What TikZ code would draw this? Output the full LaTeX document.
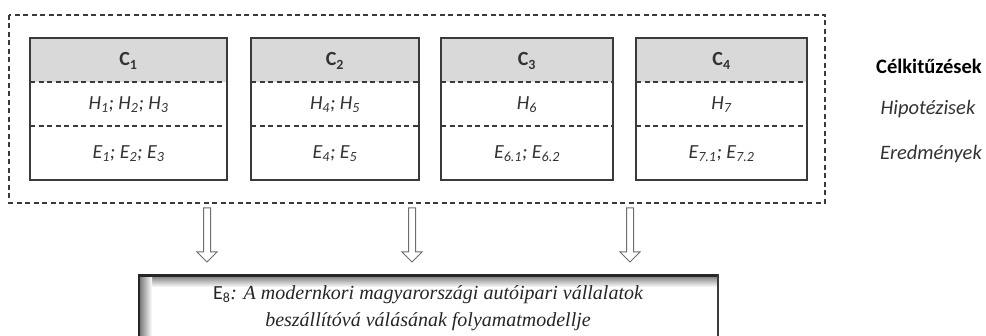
\documentclass[tikz,border=0pt]{standalone}
\usepackage{fontspec}
\setmainfont{Carlito}
\newfontfamily\serifit{Liberation Serif}
\usetikzlibrary{calc}
\definecolor{framegray}{HTML}{3A3A3A}
\definecolor{headgray}{HTML}{D9D9D9}
\definecolor{txt}{HTML}{333333}
\definecolor{arrowgray}{HTML}{6E6E6E}
\newcommand\mkcbox[6]{%
  \fill[headgray] (#2,38) rectangle (#3,82);
  \draw[dline] (#2,82) -- (#3,82);
  \draw[dline] (#2,126) -- (#3,126);
  \draw[cbox] (#2,38) rectangle (#3,180);
  \node[headtext] (#1c) at ({(#2+#3)/2},61) {#4};
  \node[celltext] (#1h) at ({(#2+#3)/2},105) {#5};
  \node[celltext] (#1e) at ({(#2+#3)/2},154) {#6};
}
\newcommand\mkarrow[1]{%
  \draw[hollow] ($(#1)+(-3.5,0)$) -- ($(#1)+(-3.5,44)$) -- ($(#1)+(-10,44)$)
    -- ($(#1)+(0,54)$) -- ($(#1)+(10,44)$) -- ($(#1)+(3.5,44)$)
    -- ($(#1)+(3.5,0)$) -- cycle;
}
\begin{document}
\begin{tikzpicture}[x=1pt,y=-1pt,
  cbox/.style={draw=framegray, line width=1.4pt},
  dline/.style={draw=framegray, line width=1.2pt, dash pattern=on 5pt off 3.5pt},
  outerframe/.style={draw=framegray, line width=1.2pt, dash pattern=on 5pt off 3.5pt},
  headtext/.style={font=\fontsize{20}{23}\selectfont\bfseries, text=txt, inner sep=0pt},
  celltext/.style={font=\fontsize{20}{23}\selectfont\itshape, text=txt, inner sep=0pt},
  sidebold/.style={font=\fontsize{20.5}{23}\selectfont\bfseries, text=black, inner sep=0pt},
  sideit/.style={font=\fontsize{20.5}{23}\selectfont\itshape, text=txt, inner sep=0pt},
  hollow/.style={draw=arrowgray, line width=1pt, fill=white},
  restext/.style={font=\fontsize{20}{27}\selectfont, text=black!85, align=center, inner sep=0pt}
]
\useasboundingbox (0,0) rectangle (986,336);
\clip (0,0) rectangle (986,336);
\fill[white] (0,0) rectangle (986,336);

% outer dashed frame
\draw[outerframe] (9,15) rectangle (825,203);
\coordinate (frameS1) at (207,208);
\coordinate (frameS2) at (412,208);
\coordinate (frameS3) at (630,208);

\mkcbox{b1}{30}{227}{C\textsubscript{1}}{H\textsubscript{1}; H\textsubscript{2}; H\textsubscript{3}}{E\textsubscript{1}; E\textsubscript{2}; E\textsubscript{3}}
\mkcbox{b2}{251}{419}{C\textsubscript{2}}{H\textsubscript{4}; H\textsubscript{5}}{E\textsubscript{4}; E\textsubscript{5}}
\mkcbox{b3}{441}{613}{C\textsubscript{3}}{H\textsubscript{6}}{E\textsubscript{6.1}; E\textsubscript{6.2}}
\mkcbox{b4}{636}{807}{C\textsubscript{4}}{H\textsubscript{7}}{E\textsubscript{7.1}; E\textsubscript{7.2}}

\node[sidebold] (lc) at (929,66) {Célkitűzések};
\node[sideit] (lh) at (928,109) {Hipotézisek};
\node[sideit] (le) at (931,154) {Eredmények};

% arrows
\mkarrow{frameS1}
\mkarrow{frameS2}
\mkarrow{frameS3}

% bottom result box with inset shadow
\fill[white] (138,274) rectangle (718,345);
\shade[top color=black!55, bottom color=white] (138,275) rectangle (718,287);
\shade[left color=black!55, right color=white] (139,275) rectangle (152,345);
\draw[draw=black!85, line width=3pt] (138,275.5) -- (718,275.5);
\draw[draw=black!85, line width=2.5pt] (139.2,274) -- (139.2,345);
\draw[draw=framegray, line width=1.2pt] (718,274) -- (718,345);
\node[restext] (res) at (428,308.5) {E\textsubscript{8}{\serifit\itshape : A modernkori magyarországi autóipari vállalatok}\\{\serifit\itshape beszállítóvá válásának folyamatmodellje}};
\end{tikzpicture}
\end{document}
